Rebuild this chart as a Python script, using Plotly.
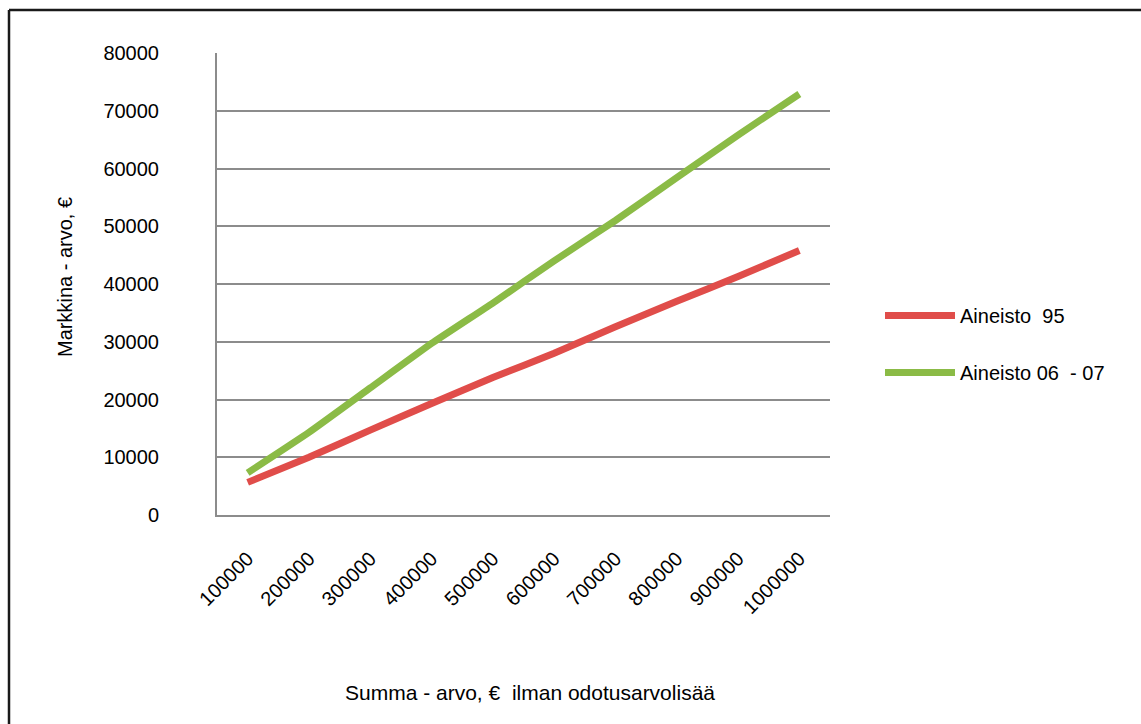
import plotly.graph_objects as go

categories = ["100000", "200000", "300000", "400000", "500000",
              "600000", "700000", "800000", "900000", "1000000"]
aineisto_95 = [5650, 10000, 14700, 19300, 23800, 28000, 32600, 37000, 41300, 45800]
aineisto_06_07 = [7300, 14300, 22000, 29700, 36700, 44000, 51000, 58400, 65800, 72900]
y_ticks = [0, 10000, 20000, 30000, 40000, 50000, 60000, 70000, 80000]

FONT = "Liberation Sans, Arial, sans-serif"
W, H = 1141, 724
L, R, T, B = 217, 311, 53, 209
pw, ph = W - L - R, H - T - B

def px_x(p):
    return (p - L) / pw

def px_y(p):
    return (H - B - p) / ph

fig = go.Figure()
fig.add_trace(go.Scatter(
    x=categories, y=aineisto_95, mode="lines", name="Aineisto  95",
    line=dict(color="#E04D4A", width=7, shape="spline", smoothing=0.4),
    legendgroup="a"))
fig.add_trace(go.Scatter(
    x=categories, y=aineisto_06_07, mode="lines", name="Aineisto 06  - 07",
    line=dict(color="#8BBB46", width=7, shape="spline", smoothing=0.4),
    legendgroup="b"))

fig.update_layout(
    width=W, height=H,
    margin=dict(l=L, r=R, t=T, b=B, autoexpand=False),
    paper_bgcolor="white", plot_bgcolor="white",
    font=dict(family=FONT, size=20, color="black"),
    showlegend=True,
    legend=dict(x=px_x(880), y=px_y(344), xanchor="left", yanchor="middle",
                traceorder="grouped", tracegroupgap=28, itemwidth=70,
                font=dict(size=20), bgcolor="rgba(0,0,0,0)"),
    xaxis=dict(type="category", range=[-0.5, 9.5], tickangle=-45, showgrid=False,
               showline=True, linecolor="#8c8c8c", linewidth=2,
               ticks="", tickfont=dict(size=20), ticklabelstandoff=22,
               automargin=False, fixedrange=True),
    yaxis=dict(range=[0, 80000], tickvals=y_ticks, ticktext=[str(v) for v in y_ticks],
               showgrid=True, gridcolor="#8c8c8c", gridwidth=2,
               showline=True, linecolor="#8c8c8c", linewidth=2,
               zeroline=False, ticks="", tickfont=dict(size=20),
               ticklabelstandoff=52, automargin=False, fixedrange=True),
    annotations=[
        dict(text="Markkina - arvo, €", xref="paper", yref="paper",
             x=px_x(65), y=px_y(277), textangle=-90, showarrow=False,
             font=dict(size=20), xanchor="center", yanchor="middle"),
        dict(text="Summa - arvo, €  ilman odotusarvolisää", xref="paper", yref="paper",
             x=px_x(530), y=px_y(692), showarrow=False,
             font=dict(size=21), xanchor="center", yanchor="middle"),
    ],
    shapes=[
        dict(type="line", xref="paper", yref="paper",
             x0=px_x(9), x1=px_x(1160), y0=px_y(10), y1=px_y(10),
             line=dict(color="#1a1a1a", width=2.5)),
        dict(type="line", xref="paper", yref="paper",
             x0=px_x(9), x1=px_x(9), y0=px_y(10), y1=px_y(740),
             line=dict(color="#1a1a1a", width=2.5)),
    ],
)

fig.write_html("out.html")
